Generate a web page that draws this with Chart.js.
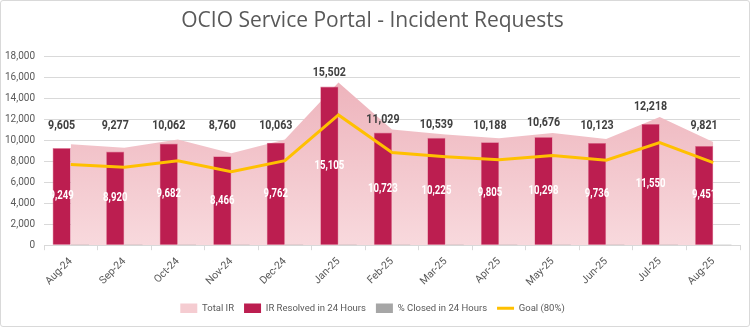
<!DOCTYPE html>
<html>
<head>
<meta charset="utf-8">
<script src="https://cdn.jsdelivr.net/npm/chart.js@4.4.1/dist/chart.umd.min.js"></script>
<style>
  html, body { margin: 0; padding: 0; background: #fff; }
  #wrap { width: 748px; height: 325px; border: 1px solid #D9D9D9; border-radius: 3px; }
</style>
</head>
<body>
<div id="wrap"><canvas id="irChart" width="748" height="325"></canvas></div>
<script>
'use strict';

const MONTHS = ['Aug-24', 'Sep-24', 'Oct-24', 'Nov-24', 'Dec-24', 'Jan-25', 'Feb-25',
  'Mar-25', 'Apr-25', 'May-25', 'Jun-25', 'Jul-25', 'Aug-25'];
const TOTAL_IR = [9605, 9277, 10062, 8760, 10063, 15502, 11029, 10539, 10188, 10676, 10123, 12218, 9821];
const RESOLVED_24H = [9249, 8920, 9682, 8466, 9762, 15105, 10723, 10225, 9805, 10298, 9736, 11550, 9451];
// share of IR closed within 24 hours (too small to show on the count axis)
const PCT_CLOSED = [0.96, 0.96, 0.96, 0.97, 0.97, 0.97, 0.97, 0.97, 0.96, 0.96, 0.96, 0.95, 0.96];
const GOAL_80 = [7684, 7422, 8050, 7008, 8050, 12402, 8823, 8431, 8150, 8541, 8098, 9774, 7857];
const Y_TICKS = { min: 0, max: 18000, step: 2000 };

const FONT = 'Roboto, "Noto Sans", sans-serif';
const COLORS = {
  bar: '#BC1E50',
  barEdge: '#E27F9A',
  areaTop: '#ECAEB7',
  areaBottom: '#F8D9DD',
  areaLegend: '#F5CCD1',
  grey: '#A6A6A6',
  goal: '#FFC000',
  text: '#595959',
  grid: '#D9D9D9',
};

const fmt = (v) => v.toLocaleString('en-US');

const areaFill = (context) => {
  const { chart } = context;
  const area = chart.chartArea;
  if (!area) return COLORS.areaLegend;
  const g = chart.ctx.createLinearGradient(0, area.top, 0, area.bottom);
  g.addColorStop(0, COLORS.areaTop);
  g.addColorStop(1, COLORS.areaBottom);
  return g;
};

// draw text squeezed horizontally, the source uses a narrow face
const narrowText = (ctx, text, x, y, squeeze) => {
  ctx.save();
  ctx.translate(x, y);
  ctx.scale(squeeze, 1);
  ctx.fillText(text, 0, 0);
  ctx.restore();
};

// value labels: totals above the bars, resolved counts inside them
const valueLabels = {
  id: 'valueLabels',
  afterDatasetsDraw(chart) {
    const ctx = chart.ctx;
    const yScale = chart.scales.y;
    const bars = chart.getDatasetMeta(1).data;
    ctx.save();
    ctx.textAlign = 'center';
    ctx.textBaseline = 'middle';
    bars.forEach((bar, i) => {
      ctx.font = 'bold 12px ' + FONT;
      ctx.fillStyle = '#FFFFFF';
      narrowText(ctx, fmt(RESOLVED_24H[i]), bar.x, (bar.y + bar.base) / 2, 0.8);

      const ty = Math.min(yScale.getPixelForValue(TOTAL_IR[i]) - 10, yScale.getPixelForValue(11400));
      ctx.font = 'bold 13px ' + FONT;
      ctx.fillStyle = '#404040';
      narrowText(ctx, fmt(TOTAL_IR[i]), bar.x, ty, 0.82);
    });
    ctx.restore();
  },
};

const data = {
  labels: MONTHS,
  datasets: [
    {
      type: 'line',
      label: 'Total IR',
      data: TOTAL_IR,
      fill: 'origin',
      backgroundColor: areaFill,
      borderWidth: 0,
      pointRadius: 0,
      tension: 0,
      pointStyle: 'rect',
      order: 3,
    },
    {
      type: 'bar',
      label: 'IR Resolved in 24 Hours',
      data: RESOLVED_24H,
      backgroundColor: COLORS.bar,
      borderColor: COLORS.barEdge,
      borderWidth: 0.6,
      pointStyle: 'rect',
      categoryPercentage: 0.68,
      barPercentage: 1.0,
      order: 2,
    },
    {
      type: 'bar',
      label: '% Closed in 24 Hours',
      data: PCT_CLOSED,
      backgroundColor: COLORS.grey,
      borderWidth: 0,
      pointStyle: 'rect',
      categoryPercentage: 0.68,
      barPercentage: 1.0,
      order: 2,
    },
    {
      type: 'line',
      label: 'Goal (80%)',
      data: GOAL_80,
      borderColor: COLORS.goal,
      backgroundColor: COLORS.goal,
      borderWidth: 3,
      pointRadius: 0,
      tension: 0,
      fill: false,
      pointStyle: 'line',
      order: 1,
    },
  ],
};

const config = {
  type: 'bar',
  data,
  options: {
    responsive: false,
    animation: false,
    layout: { padding: { left: 4, right: 9, top: 0, bottom: 3 } },
    plugins: {
      title: {
        display: true,
        text: 'OCIO Service Portal - Incident Requests',
        color: COLORS.text,
        font: { family: '"Open Sans", sans-serif', size: 21, weight: 'normal' },
        padding: { top: 7, bottom: 23 },
      },
      legend: {
        position: 'bottom',
        labels: {
          usePointStyle: true,
          pointStyleWidth: 17,
          boxHeight: 11,
          padding: 10,
          color: COLORS.text,
          font: { family: FONT, size: 9.5 },
          sort: (a, b) => a.datasetIndex - b.datasetIndex,
          generateLabels(chart) {
            const items = Chart.defaults.plugins.legend.labels.generateLabels(chart);
            items.forEach((it) => {
              if (it.datasetIndex === 0) it.fillStyle = COLORS.areaLegend;
              if (it.pointStyle === 'rect') it.lineWidth = 0;
            });
            return items;
          },
        },
      },
      tooltip: { enabled: false },
    },
    scales: {
      x: {
        offset: true,
        grid: { offset: true, drawOnChartArea: false, tickLength: 5, color: COLORS.grid },
        border: { color: COLORS.grid },
        ticks: {
          maxRotation: 45,
          minRotation: 45,
          color: COLORS.text,
          font: { family: FONT, size: 10.5 },
          padding: 5,
        },
      },
      y: {
        min: Y_TICKS.min,
        max: Y_TICKS.max,
        ticks: {
          stepSize: Y_TICKS.step,
          callback: (v) => fmt(v),
          color: COLORS.text,
          font: { family: FONT, size: 10 },
          padding: 9,
        },
        grid: { color: COLORS.grid, drawTicks: false },
        border: { display: false },
        afterFit(scale) { scale.width = 39; },
      },
    },
  },
  plugins: [valueLabels],
};

new Chart(document.getElementById('irChart'), config);
</script>
</body>
</html>
